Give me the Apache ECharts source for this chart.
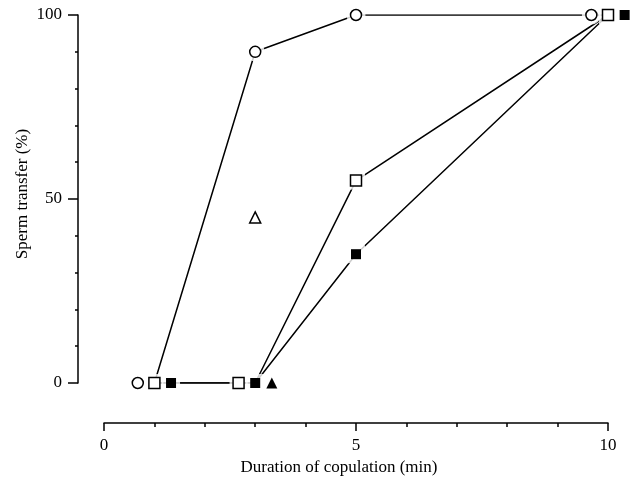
<!DOCTYPE html>
<html>
<head>
<meta charset="utf-8">
<script src="https://cdn.jsdelivr.net/npm/echarts@6/dist/echarts.min.js"></script>
<style>
  html, body { margin: 0; padding: 0; background: #fff; }
  #chart { width: 637px; height: 482px; }
</style>
</head>
<body>
<div id="chart"></div>
<script>
// lines go through the true values, markers are shifted sideways where they overlap
const circleLine = [[1, 0], [3, 90], [5, 100], [10, 100]];
const openSquareLine = [[1, 0], [3, 0], [5, 55], [10, 100]];
const filledSquareLine = [[1, 0], [3, 0], [5, 35], [10, 100]];

const circlePts = [[0.67, 0], [3, 90], [5, 100], [9.67, 100]];
const openSquarePts = [[1, 0], [2.67, 0], [5, 55], [10, 100]];
const filledSquarePts = [[1.33, 0], [3, 0], [5, 35], [10.33, 100]];
const filledTrianglePts = [[3.33, 0]];
const openTrianglePts = [[3, 45]];

const font = 'Liberation Serif';

function lineSeries(data) {
  return {
    type: 'line', data: data, symbol: 'none', z: 2,
    lineStyle: { color: '#000', width: 1.5 }
  };
}
function halo(data, symbol, size) {
  return {
    type: 'scatter', data: data, symbol: symbol, symbolSize: size, z: 3, clip: false,
    itemStyle: { color: '#fff' }, silent: true
  };
}
function marks(data, symbol, size, filled) {
  return {
    type: 'scatter', data: data, symbol: symbol, symbolSize: size, z: 4, clip: false,
    itemStyle: filled ? { color: '#000', opacity: 1 } : { color: '#fff', borderColor: '#000', borderWidth: 1.5, opacity: 1 }
  };
}

let myChart = echarts.init(document.getElementById('chart'));
myChart.setOption({
  animation: false,
  grid: { left: 104, right: 29, top: 15, bottom: 99 },
  xAxis: {
    type: 'value', min: 0, max: 10, interval: 5, offset: 40,
    name: 'Duration of copulation (min)', nameLocation: 'middle', nameGap: 33,
    nameTextStyle: { fontFamily: font, fontSize: 17, color: '#000', padding: [0, 34, 0, 0] },
    axisLine: { show: true, onZero: false, lineStyle: { color: '#000', width: 1.5 } },
    axisTick: { show: true, length: 8, lineStyle: { color: '#000', width: 1.5 } },
    minorTick: { show: true, splitNumber: 5, length: 4, lineStyle: { color: '#000', width: 1.5 } },
    axisLabel: { fontFamily: font, fontSize: 17, color: '#000', margin: 14 },
    splitLine: { show: false }
  },
  yAxis: {
    type: 'value', min: 0, max: 100, interval: 50, offset: 26,
    name: 'Sperm transfer (%)', nameLocation: 'middle', nameGap: 47, nameRotate: 90,
    nameMoveOverlap: false,
    nameTextStyle: { fontFamily: font, fontSize: 17, color: '#000', padding: [0, 0, 0, 10] },
    axisLine: { show: true, onZero: false, lineStyle: { color: '#000', width: 1.5 } },
    axisTick: { show: true, length: 10, lineStyle: { color: '#000', width: 1.5 } },
    minorTick: { show: true, splitNumber: 5, length: 3, lineStyle: { color: '#000', width: 1.5 } },
    axisLabel: { fontFamily: font, fontSize: 17, color: '#000', margin: 16 },
    splitLine: { show: false }
  },
  series: [
    lineSeries(circleLine),
    lineSeries(openSquareLine),
    lineSeries(filledSquareLine),
    halo(circlePts, 'circle', 19),
    halo(openSquarePts, 'rect', 18),
    halo(filledSquarePts, 'rect', 18),
    halo(filledTrianglePts, 'triangle', 18),
    halo(openTrianglePts, 'triangle', 18),
    marks(circlePts, 'circle', 11, false),
    marks(openSquarePts, 'rect', 11, false),
    marks(filledSquarePts, 'rect', 10, true),
    marks(filledTrianglePts, 'triangle', 11, true),
    marks(openTrianglePts, 'triangle', 11, false)
  ]
});
</script>
</body>
</html>
